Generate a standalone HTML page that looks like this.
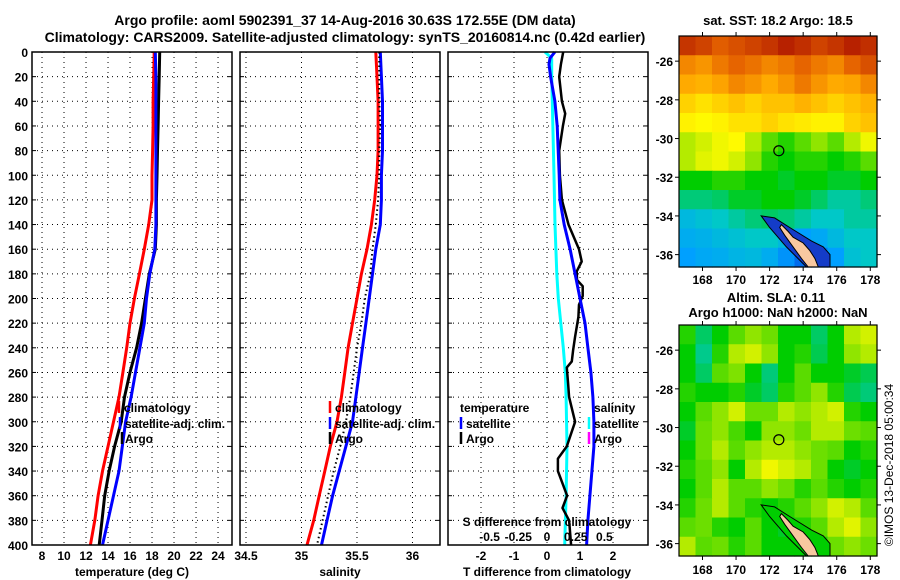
<!DOCTYPE html>
<html><head><meta charset="utf-8">
<style>
html,body{margin:0;padding:0;background:#fff;}
svg{display:block;font-family:"Liberation Sans",sans-serif;font-weight:bold;}
</style></head>
<body>
<svg id="fig" width="900" height="580" viewBox="0 0 900 580" xmlns="http://www.w3.org/2000/svg">
<text x="345" y="25" font-size="14" text-anchor="middle">Argo profile: aoml 5902391_37 14-Aug-2016 30.63S 172.55E (DM data)</text>
<text x="345" y="42" font-size="14" text-anchor="middle">Climatology: CARS2009. Satellite-adjusted climatology: synTS_20160814.nc (0.42d earlier)</text>
<text x="778" y="25" font-size="13" text-anchor="middle">sat. SST: 18.2 Argo: 18.5</text>
<text x="776" y="302" font-size="13" text-anchor="middle">Altim. SLA: 0.11</text>
<text x="778" y="317" font-size="13" text-anchor="middle">Argo h1000: NaN h2000: NaN</text>
<text transform="translate(893,465) rotate(-90)" font-size="12" font-weight="normal" text-anchor="middle">©IMOS 13-Dec-2018 05:00:34</text>
<g id="panels"></g>
<g id="maps"></g>
</svg>
<script>
// ---------- profile data ----------
const tDepth = [0,20,40,60,80,100,120,140,160,180,200,220,240,260,280,300,320,340,360,380,400];
const tClim = [18.2,18.15,18.1,18.1,18.05,18.0,18.0,17.7,17.3,16.85,16.4,16.0,15.7,15.35,15.0,14.5,14.0,13.5,13.1,12.8,12.4];
const tSat  = [18.3,18.35,18.35,18.35,18.35,18.35,18.35,18.35,18.25,17.8,17.5,17.3,16.9,16.5,16.1,15.6,15.3,15.0,14.5,14.0,13.5];
const tArgo = [18.7,18.65,18.6,18.55,18.5,18.45,18.4,18.4,18.3,17.75,17.4,17.05,16.6,16.0,15.5,15.2,14.6,14.1,13.7,13.45,13.2];
const sClim = [35.67,35.68,35.69,35.69,35.69,35.68,35.66,35.63,35.59,35.54,35.50,35.46,35.42,35.39,35.36,35.32,35.26,35.21,35.16,35.11,35.05];
const sSat  = [35.71,35.72,35.73,35.73,35.73,35.72,35.72,35.71,35.67,35.64,35.61,35.58,35.55,35.52,35.49,35.46,35.40,35.34,35.28,35.23,35.18];
const sArgo = [35.70,35.70,35.70,35.71,35.70,35.70,35.69,35.67,35.64,35.62,35.57,35.54,35.50,35.47,35.44,35.40,35.35,35.29,35.24,35.19,35.14];
const dtArgoDepth = [0,10,20,40,50,60,80,100,120,140,160,170,178,185,190,198,205,215,231,242,251,256,269,280,300,320,330,340,360,370,380,400];
const dtArgo = [0.49,0.42,0.37,0.45,0.55,0.48,0.37,0.39,0.45,0.65,0.97,1.05,0.9,0.91,1.08,1.08,0.97,0.95,0.85,0.79,0.75,0.6,0.64,0.67,0.85,0.6,0.33,0.33,0.61,0.47,0.67,0.73];
const dtSatDepth = [0,5,10,20,40,60,80,100,120,140,160,180,200,220,240,260,280,300,320,340,360,380,400];
const dtSat = [0.24,0.09,0.06,0.11,0.24,0.31,0.34,0.37,0.39,0.52,0.7,0.85,1.0,1.15,1.24,1.33,1.39,1.42,1.42,1.36,1.3,1.24,1.2];
const dsSatDepth = [0,5,20,40,100,140,180,200,240,260,280,320,360,400];
const dsSat = [-0.017,0.041,0.041,0.046,0.061,0.07,0.085,0.098,0.142,0.159,0.166,0.174,0.166,0.154];
const depthTicks = [0,20,40,60,80,100,120,140,160,180,200,220,240,260,280,300,320,340,360,380,400];
const tTicks = [8,10,12,14,16,18,20,22,24];
const sTicks = [34.5,35,35.5,36];
const sTickLabels = ["34.5","35","35.5","36"];
const dtTicks = [-2,-1,0,1,2];
const dsTicks = [-0.5,-0.25,0,0.25,0.5];
const dsTickLabels = ["-0.5","-0.25","0","0.25","0.5"];

// ---------- map data (colour index 0..1), rows north->south, cols west->east ----------
const sstRows = [
[0.92,0.9,0.86,0.88,0.9,0.92,0.95,0.93,0.9,0.92,0.95,0.93],
[0.8,0.78,0.82,0.85,0.83,0.8,0.82,0.85,0.82,0.8,0.85,0.88],
[0.75,0.74,0.76,0.8,0.78,0.75,0.78,0.82,0.78,0.75,0.76,0.8],
[0.7,0.68,0.7,0.72,0.7,0.72,0.72,0.74,0.72,0.7,0.72,0.74],
[0.66,0.65,0.66,0.68,0.68,0.7,0.68,0.67,0.66,0.66,0.7,0.72],
[0.6,0.62,0.64,0.65,0.6,0.55,0.52,0.55,0.58,0.55,0.6,0.64],
[0.6,0.63,0.64,0.62,0.58,0.52,0.5,0.52,0.52,0.5,0.52,0.55],
[0.5,0.5,0.52,0.52,0.5,0.5,0.48,0.5,0.5,0.48,0.48,0.5],
[0.44,0.44,0.45,0.48,0.48,0.5,0.5,0.48,0.45,0.42,0.42,0.44],
[0.36,0.38,0.4,0.42,0.44,0.45,0.44,0.42,0.4,0.4,0.42,0.42],
[0.33,0.34,0.36,0.38,0.4,0.4,0.36,0.3,0.32,0.36,0.4,0.4],
[0.3,0.32,0.33,0.35,0.36,0.33,0.28,0.22,0.25,0.3,0.38,0.4]];
const slaRows = [
[0.52,0.45,0.5,0.55,0.58,0.56,0.5,0.5,0.45,0.5,0.6,0.62],
[0.5,0.43,0.52,0.6,0.62,0.58,0.5,0.52,0.46,0.5,0.58,0.6],
[0.5,0.45,0.55,0.57,0.5,0.44,0.5,0.55,0.5,0.5,0.48,0.46],
[0.52,0.5,0.5,0.52,0.48,0.45,0.52,0.55,0.58,0.52,0.46,0.44],
[0.5,0.55,0.58,0.62,0.56,0.56,0.6,0.58,0.6,0.62,0.52,0.5],
[0.48,0.56,0.58,0.54,0.5,0.58,0.58,0.56,0.6,0.6,0.56,0.55],
[0.5,0.56,0.6,0.55,0.58,0.6,0.6,0.58,0.56,0.55,0.5,0.52],
[0.52,0.55,0.58,0.5,0.6,0.64,0.62,0.6,0.56,0.5,0.48,0.5],
[0.5,0.55,0.6,0.55,0.55,0.58,0.56,0.52,0.55,0.52,0.5,0.52],
[0.52,0.56,0.6,0.55,0.52,0.5,0.52,0.55,0.58,0.62,0.6,0.55],
[0.55,0.56,0.52,0.5,0.55,0.5,0.48,0.52,0.55,0.6,0.63,0.58],
[0.6,0.55,0.56,0.52,0.55,0.5,0.5,0.5,0.52,0.56,0.58,0.56]];
const lonTicks = [168,170,172,174,176,178];
const latTicks = [-26,-28,-30,-32,-34,-36];
const argoLon = 172.55, argoLat = -30.63;
const landLon = [172.7,173.1,173.4,174.0,174.4,174.7,174.9,174.3,173.9,173.4,172.9,172.6];
const landLat = [-34.45,-34.8,-35.1,-35.4,-35.8,-36.2,-36.64,-36.64,-36.2,-35.6,-35.0,-34.6];
const shelfLon = [171.5,172.3,173.2,174.5,175.2,175.6,175.6,174.2,173.0,172.0];
const shelfLat = [-34.0,-34.1,-34.6,-35.3,-35.6,-36.0,-36.64,-36.64,-35.6,-34.6];

const NS='http://www.w3.org/2000/svg';
function mk(tag, attrs, parent){const e=document.createElementNS(NS,tag);for(const k in attrs)e.setAttribute(k,attrs[k]);parent.appendChild(e);return e;}
const panels=document.getElementById('panels');
const maps=document.getElementById('maps');
const yTop=52, yBot=545;
function yD(d){return yTop+(yBot-yTop)*d/400;}

function panel(name,x0,x1,vmin,vmax){
  const g=mk('g',{},panels);
  
  
  const sx=v=>x0+(v-vmin)/(vmax-vmin)*(x1-x0);
  return {g,sx,x0,x1};
}
function frame(p){
  const r=mk('rect',{x:p.x0,y:yTop,width:p.x1-p.x0,height:yBot-yTop,fill:'none',stroke:'#000','stroke-width':1.5},p.g);
  
  
}
function grid(p,xt){
  depthTicks.forEach(d=>{ if(d>0&&d<400){const l=mk('line',{x1:p.x0,x2:p.x1,y1:yD(d),y2:yD(d),stroke:'#000','stroke-width':1,'stroke-dasharray':'1,4'},p.g);
    
    }
    mk('line',{x1:p.x0,x2:p.x0+4,y1:yD(d),y2:yD(d),stroke:'#000'},p.g); mk('line',{x1:p.x1-4,x2:p.x1,y1:yD(d),y2:yD(d),stroke:'#000'},p.g);});
  xt.forEach(v=>{const l=mk('line',{x1:p.sx(v),x2:p.sx(v),y1:yTop,y2:yBot,stroke:'#000','stroke-width':1,'stroke-dasharray':'1,4'},p.g);
    
    });
}
function xlabels(p,ticks,labels,y){
  ticks.forEach((v,i)=>{const t=mk('text',{x:p.sx(v),y:y,'font-size':12,'text-anchor':'middle'},p.g);t.textContent=labels[i];
    
    });
}
function line(p,depths,vals,color,w,name,dash){
  const pts=depths.map((d,i)=>p.sx(vals[i]).toFixed(1)+','+yD(d).toFixed(1)).join(' ');
  const a={points:pts,fill:'none',stroke:color,'stroke-width':w,'stroke-linejoin':'round'};
  if(dash)a['stroke-dasharray']=dash;
  const e=mk('polyline',a,p.g);
  
  
}
function label(g,x,y,txt,name,size,anchor){
  const t=mk('text',{x:x,y:y,'font-size':size||12,'text-anchor':anchor||'start'},g);t.textContent=txt;
  
  
}
function tick(g,x,y,color,name){
  const e=mk('line',{x1:x,x2:x,y1:y-6,y2:y+6,stroke:color,'stroke-width':2.5},g);
  
  
}

// Panel 1 temperature
const p1=panel('temperature-panel',32,232,7.09,25.27);
grid(p1,tTicks);
line(p1,tDepth,tClim,'#ff0000',3,'temp-climatology-line');
line(p1,tDepth,tArgo,'#000000',3,'temp-argo-line');
line(p1,tDepth,tSat,'#0000ff',3,'temp-satellite-line');
frame(p1);
xlabels(p1,tTicks,tTicks.map(String),560);
label(p1.g,132,576,'temperature (deg C)','temperature-axis-title',12,'middle');
depthTicks.forEach(d=>label(p1.g,28,yD(d)+5,String(d),'depth-tick-label',12,'end'));
tick(p1.g,119,407,'#ff0000','legend-climatology-swatch'); label(p1.g,124,412,'climatology','legend-climatology');
tick(p1.g,120,423,'#0000ff','legend-satellite-swatch'); label(p1.g,125,428,'satellite-adj. clim.','legend-satellite');
tick(p1.g,122,438,'#000000','legend-argo-swatch'); label(p1.g,125,443,'Argo','legend-argo');

// Panel 2 salinity
const p2=panel('salinity-panel',240,440,34.446,36.248);
grid(p2,sTicks);
line(p2,tDepth,sClim,'#ff0000',3,'sal-climatology-line');
line(p2,tDepth,sSat,'#0000ff',3,'sal-satellite-line');
line(p2,tDepth,sArgo,'#000000',2,'sal-argo-line','1.5,3');
frame(p2);
xlabels(p2,sTicks,sTickLabels,560);
label(p2.g,340,576,'salinity','salinity-axis-title',12,'middle');
tick(p2.g,330,407,'#ff0000','legend-climatology-swatch'); label(p2.g,335,412,'climatology','legend-climatology');
tick(p2.g,330,423,'#0000ff','legend-satellite-swatch'); label(p2.g,335,428,'satellite-adj. clim.','legend-satellite');
tick(p2.g,330,438,'#000000','legend-argo-swatch'); label(p2.g,335,443,'Argo','legend-argo');

// Panel 3 differences
const p3=panel('difference-panel',448,648,-3,3.06);
const p3s={g:p3.g,sx:v=>547+v*114.8};
grid(p3,dtTicks);
line(p3s,dsSatDepth,dsSat,'#00ffff',3,'sal-diff-satellite-line');
line(p3,dtArgoDepth,dtArgo,'#000000',2.5,'temp-diff-argo-line');
line(p3,dtSatDepth,dtSat,'#0000ff',3,'temp-diff-satellite-line');
frame(p3);
xlabels(p3,dtTicks,dtTicks.map(String),560);
label(p3.g,547,576,'T difference from climatology','tdiff-axis-title',12,'middle');
label(p3.g,547,526,'S difference from climatology','sdiff-axis-title',12,'middle');
xlabels(p3s,dsTicks,dsTickLabels,541);
label(p3.g,460,412,'temperature','legend-temperature-header');
tick(p3.g,461,423,'#0000ff','legend-temp-satellite-swatch'); label(p3.g,466,428,'satellite','legend-temp-satellite');
tick(p3.g,461,438,'#000000','legend-temp-argo-swatch'); label(p3.g,466,443,'Argo','legend-temp-argo');
label(p3.g,594,412,'salinity','legend-salinity-header');
tick(p3.g,589,423,'#00ffff','legend-sal-satellite-swatch'); label(p3.g,594,428,'satellite','legend-sal-satellite');
tick(p3.g,589,438,'#ff00ff','legend-sal-argo-swatch'); label(p3.g,594,443,'Argo','legend-sal-argo');

// ---------- maps ----------
const cmapStops=[[0,0,0,140],[0.15,0,60,220],[0.3,0,160,255],[0.4,0,200,200],[0.5,0,205,0],[0.6,180,235,0],[0.65,255,250,0],[0.75,255,170,0],[0.85,230,100,0],[1,160,0,0]];
function cmap(v){
  v=Math.max(0,Math.min(1,v));
  for(let i=1;i<cmapStops.length;i++){
    const a=cmapStops[i-1],b=cmapStops[i];
    if(v<=b[0]){const f=(v-a[0])/(b[0]-a[0]);
      return 'rgb('+Math.round(a[1]+f*(b[1]-a[1]))+','+Math.round(a[2]+f*(b[2]-a[2]))+','+Math.round(a[3]+f*(b[3]-a[3]))+')';}
  }
  return 'rgb(160,0,0)';
}
function mapPanel(name,top,rows,labelY,shelfFill){
  const g=mk('g',{},maps);
  
  
  const L=679,R=877,B=top+231, lon0=166.6,lon1=178.4,lat0=-24.7,lat1=-36.64;
  const sx=lo=>L+(lo-lon0)/(lon1-lon0)*(R-L);
  const sy=la=>top+(la-lat0)/(lat1-lat0)*(B-top);
  const nr=rows.length,nc=rows[0].length;
  const dLon=(lon1-lon0)/nc, dLat=(lat1-lat0)/nr;
  rows.forEach((row,i)=>row.forEach((v,j)=>{
    const x=sx(lon0+j*dLon), y=sy(lat0+i*dLat);
    const r=mk('rect',{x:x.toFixed(2),y:y.toFixed(2),width:(sx(lon0+(j+1)*dLon)-x+0.6).toFixed(2),height:(sy(lat0+(i+1)*dLat)-y+0.6).toFixed(2),fill:cmap(v)},g);
    
    
  }));
  const shelf=mk('polygon',{points:shelfLon.map((lo,i)=>sx(lo).toFixed(1)+','+sy(shelfLat[i]).toFixed(1)).join(' '),fill:shelfFill,stroke:'#000','stroke-width':1},g);
  
  
  const land=mk('polygon',{points:landLon.map((lo,i)=>sx(lo).toFixed(1)+','+sy(landLat[i]).toFixed(1)).join(' '),fill:'#f8c8a0',stroke:'#000','stroke-width':1},g);
  
  
  const c=mk('circle',{cx:sx(argoLon),cy:sy(argoLat),r:5,fill:'none',stroke:'#000','stroke-width':1.2},g);
  
  
  const f=mk('rect',{x:L,y:top,width:R-L,height:B-top,fill:'none',stroke:'#000','stroke-width':1.2},g);
  
  
  lonTicks.forEach(lo=>{mk('line',{x1:sx(lo),x2:sx(lo),y1:top,y2:top-4,stroke:'#000'},g);mk('line',{x1:sx(lo),x2:sx(lo),y1:B,y2:B+4,stroke:'#000'},g);
    label(g,sx(lo),labelY,String(lo),'lon-tick-label',12,'middle');});
  latTicks.forEach(la=>{mk('line',{x1:L,x2:L-4,y1:sy(la),y2:sy(la),stroke:'#000'},g);mk('line',{x1:R,x2:R+4,y1:sy(la),y2:sy(la),stroke:'#000'},g);
    label(g,673,sy(la)+5,String(la),'lat-tick-label',12,'end');});
}
mapPanel('sst-map',36,sstRows,284,'rgb(20,60,200)');
mapPanel('sla-map',325,slaRows,574,'rgb(0,205,0)');
</script>
</body></html>
